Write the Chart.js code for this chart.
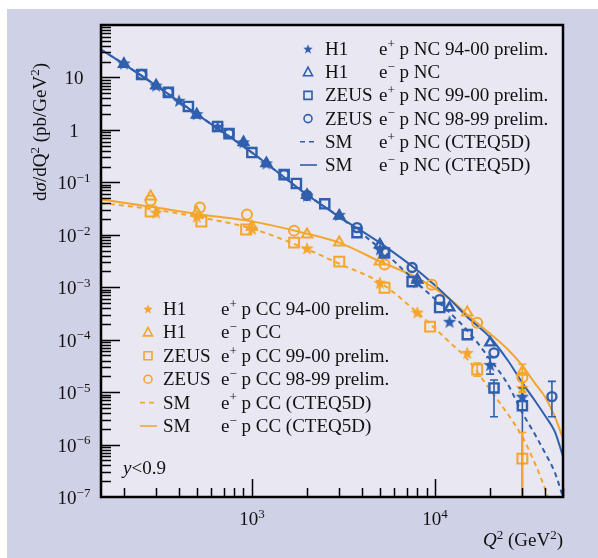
<!DOCTYPE html>
<html>
<head>
<meta charset="utf-8">
<script src="https://cdn.jsdelivr.net/npm/chart.js@4.4.0/dist/chart.umd.min.js"></script>
<style>
  html, body { margin: 0; padding: 0; background: #fff; }
</style>
</head>
<body>
<canvas id="grafik" width="598" height="558"></canvas>
<script>
// data kurva SM (Q2 dalam GeV2, dsigma/dQ2 dalam pb/GeV2)
const q2Kurva      = [150, 200, 300, 500, 1000, 2000, 3000, 5000, 8000, 12000, 15000, 20000, 25000, 30000, 35000, 40000, 45000, 50000];
const smNcElektron = [34, 18, 7.0, 2.0, 0.37, 0.058, 0.022, 7.0e-3, 2.1e-3, 6.0e-4, 2.7e-4, 1.1e-4, 4.0e-5, 1.5e-5, 7.0e-6, 3.5e-6, 1.8e-6, 6.0e-7];
const smNcPositron = [34, 18, 7.0, 2.0, 0.37, 0.058, 0.022, 5.5e-3, 1.2e-3, 3.3e-4, 1.5e-4, 4.2e-5, 1.4e-5, 4.0e-6, 1.6e-6, 6.8e-7, 3.0e-7, 1.0e-7];
const smCcElektron = [0.047, 0.041, 0.033, 0.025, 0.018, 0.0105, 7.1e-3, 3.1e-3, 1.5e-3, 6.0e-4, 3.0e-4, 1.3e-4, 6.5e-5, 3.2e-5, 1.5e-5, 8.0e-6, 3.5e-6, 1.3e-6];
const smCcPositron = [0.040, 0.036, 0.030, 0.022, 0.0131, 5.3e-3, 2.8e-3, 1.23e-3, 3.3e-4, 9.0e-5, 4.3e-5, 1.1e-5, 3.8e-6, 1.4e-6, 4.5e-7, 1.4e-7, 4.0e-8, 1.0e-8];

// data titik NC
const q2H1NcPos   = [200, 300, 400, 500, 650, 900, 1200, 2000, 3000, 5000, 8000, 12000, 20000, 30000];
const sgH1NcPos   = [18.5, 7.0, 3.6, 2.0, 1.15, 0.58, 0.23, 0.056, 0.024, 5.3e-3, 1.25e-3, 2.2e-4, 3.3e-5, 8.2e-6];
const q2H1NcEle   = [200, 300, 500, 900, 1200, 2000, 3000, 5000, 8000, 12000, 20000];
const sgH1NcEle   = [18, 7.0, 1.95, 0.58, 0.23, 0.057, 0.023, 6.5e-3, 1.39e-3, 4.1e-4, 8.8e-5];
const q2ZeusNcPos = [250, 350, 450, 650, 750, 1000, 1500, 1750, 2500, 3750, 5300, 7500, 10600, 15000, 21000, 30000];
const sgZeusNcPos = [11.4, 5.2, 2.8, 1.16, 0.85, 0.37, 0.14, 0.095, 0.039, 0.011, 4.5e-3, 1.28e-3, 4.1e-4, 1.25e-4, 1.2e-5, 5.5e-6];
const q2ZeusNcEle = [250, 350, 750, 1500, 2000, 3750, 5300, 7500, 10600, 21000, 43500];
const sgZeusNcEle = [11.4, 5.2, 0.85, 0.14, 0.056, 0.0137, 4.8e-3, 2.37e-3, 5.8e-4, 5.6e-5, 8.2e-6];

// data titik CC
const q2H1CcPos   = [300, 500, 1000, 2000, 5000, 8000, 15000, 30000];
const sgH1CcPos   = [0.0266, 0.0222, 0.0131, 5.5e-3, 1.22e-3, 3.3e-4, 5.6e-5, 1.2e-5];
const q2H1CcEle   = [280, 500, 1000, 2000, 3000, 5000, 8000, 15000, 30000];
const sgH1CcEle   = [0.0536, 0.0266, 0.0143, 0.0101, 7.1e-3, 3.08e-3, 1.39e-3, 3.3e-4, 2.45e-5];
const q2ZeusCcPos = [280, 530, 930, 1700, 3000, 5300, 9400, 17000, 30000];
const sgZeusCcPos = [0.0277, 0.0179, 0.0126, 7.1e-3, 3.08e-3, 9.8e-4, 1.77e-4, 2.7e-5, 5.4e-7];
const q2ZeusCcEle = [280, 520, 940, 1700, 5300, 9600, 17000, 30000];
const sgZeusCcEle = [0.045, 0.033, 0.0243, 0.012, 2.7e-3, 1.12e-3, 2.1e-4, 1.9e-5];

// error bar [Q2, bawah, atas]
const errBiru   = [[21000, 3.4e-6, 1.7e-5], [30000, 1e-7, 1.2e-5], [43500, 3.4e-6, 1.6e-5], [20000, 2.2e-5, 4.6e-5]];
const errOranye = [[30000, 1e-7, 1.7e-6], [30000, 1.0e-5, 3.4e-5], [17000, 2.0e-5, 3.6e-5]];

// tick sumbu
const tickY  = [10, 1, 0.1, 1e-2, 1e-3, 1e-4, 1e-5, 1e-6, 1e-7];
const labelY = ['10', '1', '10^−1', '10^−2', '10^−3', '10^−4', '10^−5', '10^−6', '10^−7'];
const tickX  = [1000, 10000];
const labelX = ['10^3', '10^4'];

const biru   = '#2f5fad';
const oranye = '#f4a62c';
const serif  = '"Liberation Serif", "DejaVu Serif", serif';

function gabung(xs, ys) { return xs.map((x, i) => ({ x: x, y: ys[i] })); }

// bintang isi buat marker H1
function bikinBintang(ukuran, warna) {
  const c = document.createElement('canvas');
  c.width = c.height = ukuran;
  const g = c.getContext('2d');
  const r = ukuran / 2, ri = r * 0.42;
  g.beginPath();
  for (let i = 0; i < 10; i++) {
    const rr = i % 2 === 0 ? r : ri;
    const a = -Math.PI / 2 + i * Math.PI / 5;
    g.lineTo(r + rr * Math.cos(a), r + 0.5 + rr * Math.sin(a));
  }
  g.closePath();
  g.fillStyle = warna;
  g.fill();
  return c;
}
const bintangBiru = bikinBintang(14, biru);
const bintangOranye = bikinBintang(14, oranye);

function kurva(ys, warna, putus) {
  return {
    data: gabung(q2Kurva, ys), showLine: true, pointRadius: 0, borderColor: warna,
    borderWidth: 2, borderDash: putus ? [5, 4] : [], cubicInterpolationMode: 'monotone', fill: false
  };
}
function titik(xs, ys, warna, gaya, r, tebal) {
  return {
    data: gabung(xs, ys), showLine: false, pointStyle: gaya, pointRadius: r,
    borderColor: warna, backgroundColor: 'rgba(0,0,0,0)', pointBorderWidth: tebal || 2
  };
}

// tulis teks dengan superscript, format: '10^−1'
function tulis(ctx, teks, x, y, ukuran, rata, miring) {
  const bagian = [];
  teks.split('|').forEach(p => {
    const [dasar, pangkat] = p.split('^');
    bagian.push([dasar, false]);
    if (pangkat !== undefined) bagian.push([pangkat, true]);
  });
  const font = (sup, it) => (it ? 'italic ' : '') + Math.round(sup ? ukuran * 0.68 : ukuran) + 'px ' + serif;
  let lebar = 0;
  const w = bagian.map(([t, sup], i) => {
    ctx.font = font(sup, miring && miring.includes(i));
    const m = ctx.measureText(t).width;
    lebar += m;
    return m;
  });
  let mulai = rata === 'center' ? x - lebar / 2 : rata === 'right' ? x - lebar : x;
  ctx.textAlign = 'left';
  ctx.textBaseline = 'alphabetic';
  bagian.forEach(([t, sup], i) => {
    ctx.font = font(sup, miring && miring.includes(i));
    ctx.fillText(t, mulai, y - (sup ? ukuran * 0.38 : 0));
    mulai += w[i];
  });
}

function markerLegenda(ctx, jenis, x, y, warna) {
  ctx.save();
  ctx.strokeStyle = warna;
  ctx.lineWidth = 1.6;
  ctx.beginPath();
  if (jenis === 'bintang') {
    ctx.drawImage(warna === biru ? bintangBiru : bintangOranye, x - 5, y - 5, 10, 10);
  } else if (jenis === 'segitiga') {
    ctx.moveTo(x, y - 5); ctx.lineTo(x + 4.5, y + 3.5); ctx.lineTo(x - 4.5, y + 3.5); ctx.closePath(); ctx.stroke();
  } else if (jenis === 'kotak') {
    ctx.rect(x - 4, y - 4, 8, 8); ctx.stroke();
  } else if (jenis === 'bulat') {
    ctx.arc(x, y, 4, 0, Math.PI * 2); ctx.stroke();
  } else {
    ctx.setLineDash(jenis === 'putus' ? [5, 4] : []);
    ctx.moveTo(x - 8, y); ctx.lineTo(x + 9, y); ctx.stroke();
  }
  ctx.restore();
}

const legendaNc = [
  ['bintang', 'H1', 'e^+| p NC 94-00 prelim.'],
  ['segitiga', 'H1', 'e^−| p NC'],
  ['kotak', 'ZEUS', 'e^+| p NC 99-00 prelim.'],
  ['bulat', 'ZEUS', 'e^−| p NC 98-99 prelim.'],
  ['putus', 'SM', 'e^+| p NC (CTEQ5D)'],
  ['garis', 'SM', 'e^−| p NC (CTEQ5D)']
];
const legendaCc = [
  ['bintang', 'H1', 'e^+| p CC 94-00 prelim.'],
  ['segitiga', 'H1', 'e^−| p CC'],
  ['kotak', 'ZEUS', 'e^+| p CC 99-00 prelim.'],
  ['bulat', 'ZEUS', 'e^−| p CC 98-99 prelim.'],
  ['putus', 'SM', 'e^+| p CC (CTEQ5D)'],
  ['garis', 'SM', 'e^−| p CC (CTEQ5D)']
];

const hiasan = {
  id: 'hiasan',
  beforeDraw(chart) {
    const ctx = chart.ctx, a = chart.chartArea;
    ctx.save();
    ctx.fillStyle = '#ffffff';
    ctx.fillRect(0, 0, chart.width, chart.height);
    ctx.fillStyle = '#cfd1e6';
    ctx.fillRect(7, 9, chart.width - 7, chart.height - 9);
    ctx.fillStyle = '#e9e7f2';
    ctx.fillRect(a.left, a.top, a.right - a.left, a.bottom - a.top);
    ctx.restore();
  },
  afterDatasetsDraw(chart) {
    const ctx = chart.ctx, sx = chart.scales.x, sy = chart.scales.y, a = chart.chartArea;
    ctx.save();
    ctx.beginPath();
    ctx.rect(a.left, a.top, a.right - a.left, a.bottom - a.top);
    ctx.clip();
    ctx.lineWidth = 1.6;
    [[errBiru, biru], [errOranye, oranye]].forEach(([daftar, warna]) => {
      ctx.strokeStyle = warna;
      daftar.forEach(([q, lo, hi]) => {
        const x = sx.getPixelForValue(q);
        const y1 = sy.getPixelForValue(lo), y2 = sy.getPixelForValue(hi);
        ctx.beginPath();
        ctx.moveTo(x, y1); ctx.lineTo(x, y2);
        ctx.moveTo(x - 4, y1); ctx.lineTo(x + 4, y1);
        ctx.moveTo(x - 4, y2); ctx.lineTo(x + 4, y2);
        ctx.stroke();
      });
    });
    ctx.restore();
  },
  afterDraw(chart) {
    const ctx = chart.ctx, sx = chart.scales.x, sy = chart.scales.y, a = chart.chartArea;
    ctx.save();
    ctx.strokeStyle = '#000';
    ctx.fillStyle = '#111';

    // tick ke dalam
    ctx.lineWidth = 1.5;
    ctx.beginPath();
    for (let e = -7; e <= 1; e++) {
      for (let m = 1; m <= 9; m++) {
        const v = m * Math.pow(10, e);
        const y = Math.round(sy.getPixelForValue(v)) + 0.5;
        if (y < a.top || y > a.bottom) continue;
        const pj = m === 1 ? 19 : 10;
        ctx.moveTo(a.left, y); ctx.lineTo(a.left + pj, y);
      }
    }
    for (let e = 2; e <= 4; e++) {
      for (let m = 1; m <= 9; m++) {
        const v = m * Math.pow(10, e);
        if (v < 150 || v > 50000) continue;
        const x = Math.round(sx.getPixelForValue(v)) + 0.5;
        const pj = m === 1 ? 18 : 9;
        ctx.moveTo(x, a.bottom); ctx.lineTo(x, a.bottom - pj);
      }
    }
    ctx.stroke();

    // bingkai
    ctx.lineWidth = 2.5;
    ctx.strokeRect(a.left, a.top, a.right - a.left, a.bottom - a.top);

    // label tick
    tickY.forEach((v, i) => tulis(ctx, labelY[i], 74, sy.getPixelForValue(v) + 7, 19, 'center'));
    tickX.forEach((v, i) => tulis(ctx, labelX[i], sx.getPixelForValue(v), 525, 19, 'center'));

    // judul sumbu
    tulis(ctx, 'Q^2| (GeV^2|)', 483, 546, 19, 'left', [0]);
    ctx.save();
    ctx.translate(46, 132);
    ctx.rotate(-Math.PI / 2);
    tulis(ctx, 'd|σ|/dQ^2| (pb/GeV^2|)', 0, 0, 19, 'center', [1]);
    ctx.restore();

    tulis(ctx, 'y|<0.9', 123, 474, 19, 'left', [0]);

    // legenda
    legendaNc.forEach(([m, exp, teks], i) => {
      const y = 55 + i * 23.2;
      markerLegenda(ctx, m, 308, y - 6, biru);
      tulis(ctx, exp, 325, y, 19, 'left');
      tulis(ctx, teks, 379, y, 19, 'left');
    });
    legendaCc.forEach(([m, exp, teks], i) => {
      const y = 315 + i * 23.4;
      markerLegenda(ctx, m, 148, y - 6, oranye);
      tulis(ctx, exp, 163, y, 19, 'left');
      tulis(ctx, teks, 221, y, 19, 'left');
    });
    ctx.restore();
  }
};

new Chart(document.getElementById('grafik'), {
  type: 'scatter',
  data: {
    datasets: [
      titik(q2H1NcPos, sgH1NcPos, biru, bintangBiru, 7),
      titik(q2H1NcEle, sgH1NcEle, biru, 'triangle', 5.5, 2.4),
      titik(q2ZeusNcPos, sgZeusNcPos, biru, 'rect', 6.5, 2.4),
      titik(q2ZeusNcEle, sgZeusNcEle, biru, 'circle', 4.5, 2.4),
      titik(q2H1CcPos, sgH1CcPos, oranye, bintangOranye, 7),
      titik(q2H1CcEle, sgH1CcEle, oranye, 'triangle', 6),
      titik(q2ZeusCcPos, sgZeusCcPos, oranye, 'rect', 7),
      titik(q2ZeusCcEle, sgZeusCcEle, oranye, 'circle', 5),
      kurva(smNcPositron, biru, true),
      kurva(smNcElektron, biru, false),
      kurva(smCcPositron, oranye, true),
      kurva(smCcElektron, oranye, false)
    ]
  },
  options: {
    responsive: false,
    animation: false,
    layout: { padding: { left: 101, top: 25, right: 35, bottom: 61 } },
    plugins: { legend: { display: false }, tooltip: { enabled: false } },
    scales: {
      x: { type: 'logarithmic', min: 150, max: 50000, display: false },
      y: { type: 'logarithmic', min: 1e-7, max: 100, display: false }
    }
  },
  plugins: [hiasan]
});
</script>
</body>
</html>
